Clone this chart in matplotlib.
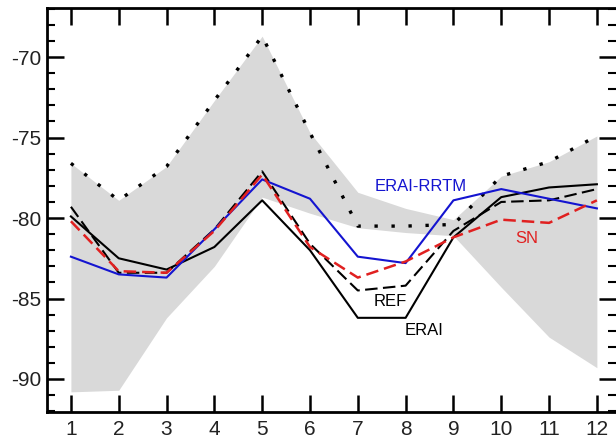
import matplotlib
matplotlib.use("Agg")
import matplotlib.pyplot as plt
from matplotlib.ticker import MultipleLocator

months = [1, 2, 3, 4, 5, 6, 7, 8, 9, 10, 11, 12]
band_upper = [-76.6, -78.9, -76.8, -72.7, -68.7, -74.7, -78.4, -79.4, -80.1, -77.4, -76.5, -74.9]
band_lower = [-90.8, -90.7, -86.2, -83.0, -78.7, -79.7, -80.6, -80.9, -81.1, -84.3, -87.4, -89.3]
dotted = [-76.6, -78.9, -76.8, -72.7, -68.7, -74.7, -80.5, -80.5, -80.4, -77.4, -76.5, -74.9]
erai = [-79.9, -82.5, -83.2, -81.8, -78.9, -82.0, -86.2, -86.2, -81.2, -78.7, -78.1, -77.9]
ref = [-79.3, -83.4, -83.4, -80.7, -77.1, -81.6, -84.5, -84.2, -80.8, -79.0, -78.9, -78.2]
sn = [-80.2, -83.3, -83.4, -80.8, -77.3, -81.8, -83.7, -82.7, -81.2, -80.1, -80.3, -78.9]
erai_rrtm = [-82.4, -83.5, -83.7, -80.7, -77.6, -78.8, -82.4, -82.8, -78.9, -78.2, -78.8, -79.4]

plt.rcParams['font.family'] = ['Liberation Sans', 'DejaVu Sans']
plt.rcParams['axes.unicode_minus'] = False

fig = plt.figure(figsize=(6.16, 4.38), dpi=100)
ax = fig.add_axes([0.0763, 0.0594, 0.9237, 0.9223])

ax.fill_between(months, band_lower, band_upper, color='#d9d9d9', linewidth=0, zorder=1)
ax.plot(months, dotted, color='black', lw=2.4, linestyle=(0, (1, 4.1)), zorder=3)
ax.plot(months, erai, color='black', lw=1.5, zorder=4)
ax.plot(months, ref, color='black', lw=1.5, linestyle=(0, (6, 2.6)), zorder=4)
ax.plot(months, sn, color='#e02020', lw=1.8, linestyle=(0, (5, 2.4)), zorder=5)
ax.plot(months, erai_rrtm, color='#1414d0', lw=1.5, zorder=4)

ax.text(8.31, -78.07, 'ERAI-RRTM', color='#1414d0', fontsize=12, ha='center', va='center')
ax.text(10.54, -81.25, 'SN', color='#e02020', fontsize=12, ha='center', va='center')
ax.text(7.68, -85.2, 'REF', color='black', fontsize=12, ha='center', va='center')
ax.text(8.39, -86.97, 'ERAI', color='black', fontsize=12, ha='center', va='center')

ax.set_xlim(0.5, 12.4)
ax.set_ylim(-92.05, -66.95)
ax.set_xticks(months)
ax.yaxis.set_major_locator(MultipleLocator(5))
ax.yaxis.set_minor_locator(MultipleLocator(1))

ax.tick_params(axis='both', which='major', direction='in', length=12, width=1.8,
               labelsize=15, top=True, right=True, colors='black', labelcolor='#222222')
ax.tick_params(axis='y', which='minor', direction='in', length=6, width=1.5, right=True)
ax.tick_params(axis='x', which='major', pad=6)
ax.tick_params(axis='y', which='major', pad=4)

for side in ['left', 'bottom', 'top']:
    ax.spines[side].set_linewidth(2)
ax.spines['right'].set_visible(False)

fig.savefig('out.png', dpi=100)
